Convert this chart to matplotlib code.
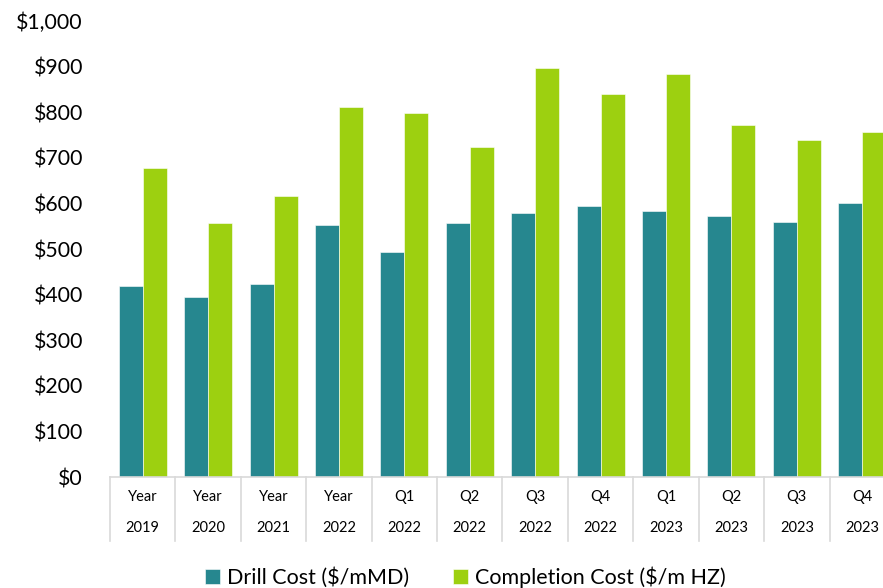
import matplotlib
matplotlib.use("Agg")
import matplotlib.pyplot as plt
import matplotlib.transforms as mtransforms
from matplotlib.ticker import FuncFormatter
import numpy as np

# chart data
periods = ["Year", "Year", "Year", "Year", "Q1", "Q2", "Q3", "Q4", "Q1", "Q2", "Q3", "Q4"]
years = ["2019", "2020", "2021", "2022", "2022", "2022", "2022", "2022",
         "2023", "2023", "2023", "2023"]
drill_cost = [418, 395, 423, 553, 494, 558, 578, 594, 584, 572, 560, 600]
completion_cost = [677, 558, 617, 811, 798, 724, 898, 841, 884, 773, 740, 756]

teal = "#26878F"
green = "#9DD010"
sep_gray = "#D9D9D9"

plt.rcParams["font.family"] = ["Lato", "DejaVu Sans"]

fig = plt.figure(figsize=(8.83, 5.88), dpi=100)
# axes right edge spills past the figure, like the reference crop
ax = fig.add_axes([110 / 883, 111 / 588, 785 / 883, 456 / 588])

x = np.arange(len(periods))
w = 0.367
ax.bar(x - w / 2, drill_cost, w, color=teal, edgecolor="white", linewidth=0.4,
       label="Drill Cost ($/mMD)")
ax.bar(x + w / 2, completion_cost, w, color=green, edgecolor="white", linewidth=0.4,
       label="Completion Cost ($/m HZ)")

ax.set_xlim(-0.5, len(periods) - 0.5)
ax.set_ylim(0, 1000)
ax.set_yticks(np.arange(0, 1001, 100))
ax.yaxis.set_major_formatter(FuncFormatter(lambda v, p: f"${v:,.0f}"))
ax.tick_params(axis="y", length=0, labelsize=15.3, pad=19.5)
ax.set_xticks([])

for s in ["top", "right", "left"]:
    ax.spines[s].set_visible(False)
ax.spines["bottom"].set_color(sep_gray)
ax.spines["bottom"].set_linewidth(1.2)

# two-level category labels with separators
trans = mtransforms.blended_transform_factory(ax.transData, ax.transAxes)
for i, (p, yr) in enumerate(zip(periods, years)):
    ax.text(i, -20 / 456, p, transform=trans, ha="center", va="center", fontsize=10.5)
    ax.text(i, -51 / 456, yr, transform=trans, ha="center", va="center", fontsize=10.5)
for b in np.arange(-0.5, len(periods), 1.0):
    ax.plot([b, b], [0, -64 / 456], transform=trans, color=sep_gray, lw=1.2,
            clip_on=False)

fig.legend(loc="center", bbox_to_anchor=(0.527, 0.019), ncol=2, frameon=False,
           fontsize=15.5, handlelength=0.7, handleheight=0.7, handletextpad=0.35,
           columnspacing=2.0, borderaxespad=0)

fig.savefig("out.png", dpi=100)
